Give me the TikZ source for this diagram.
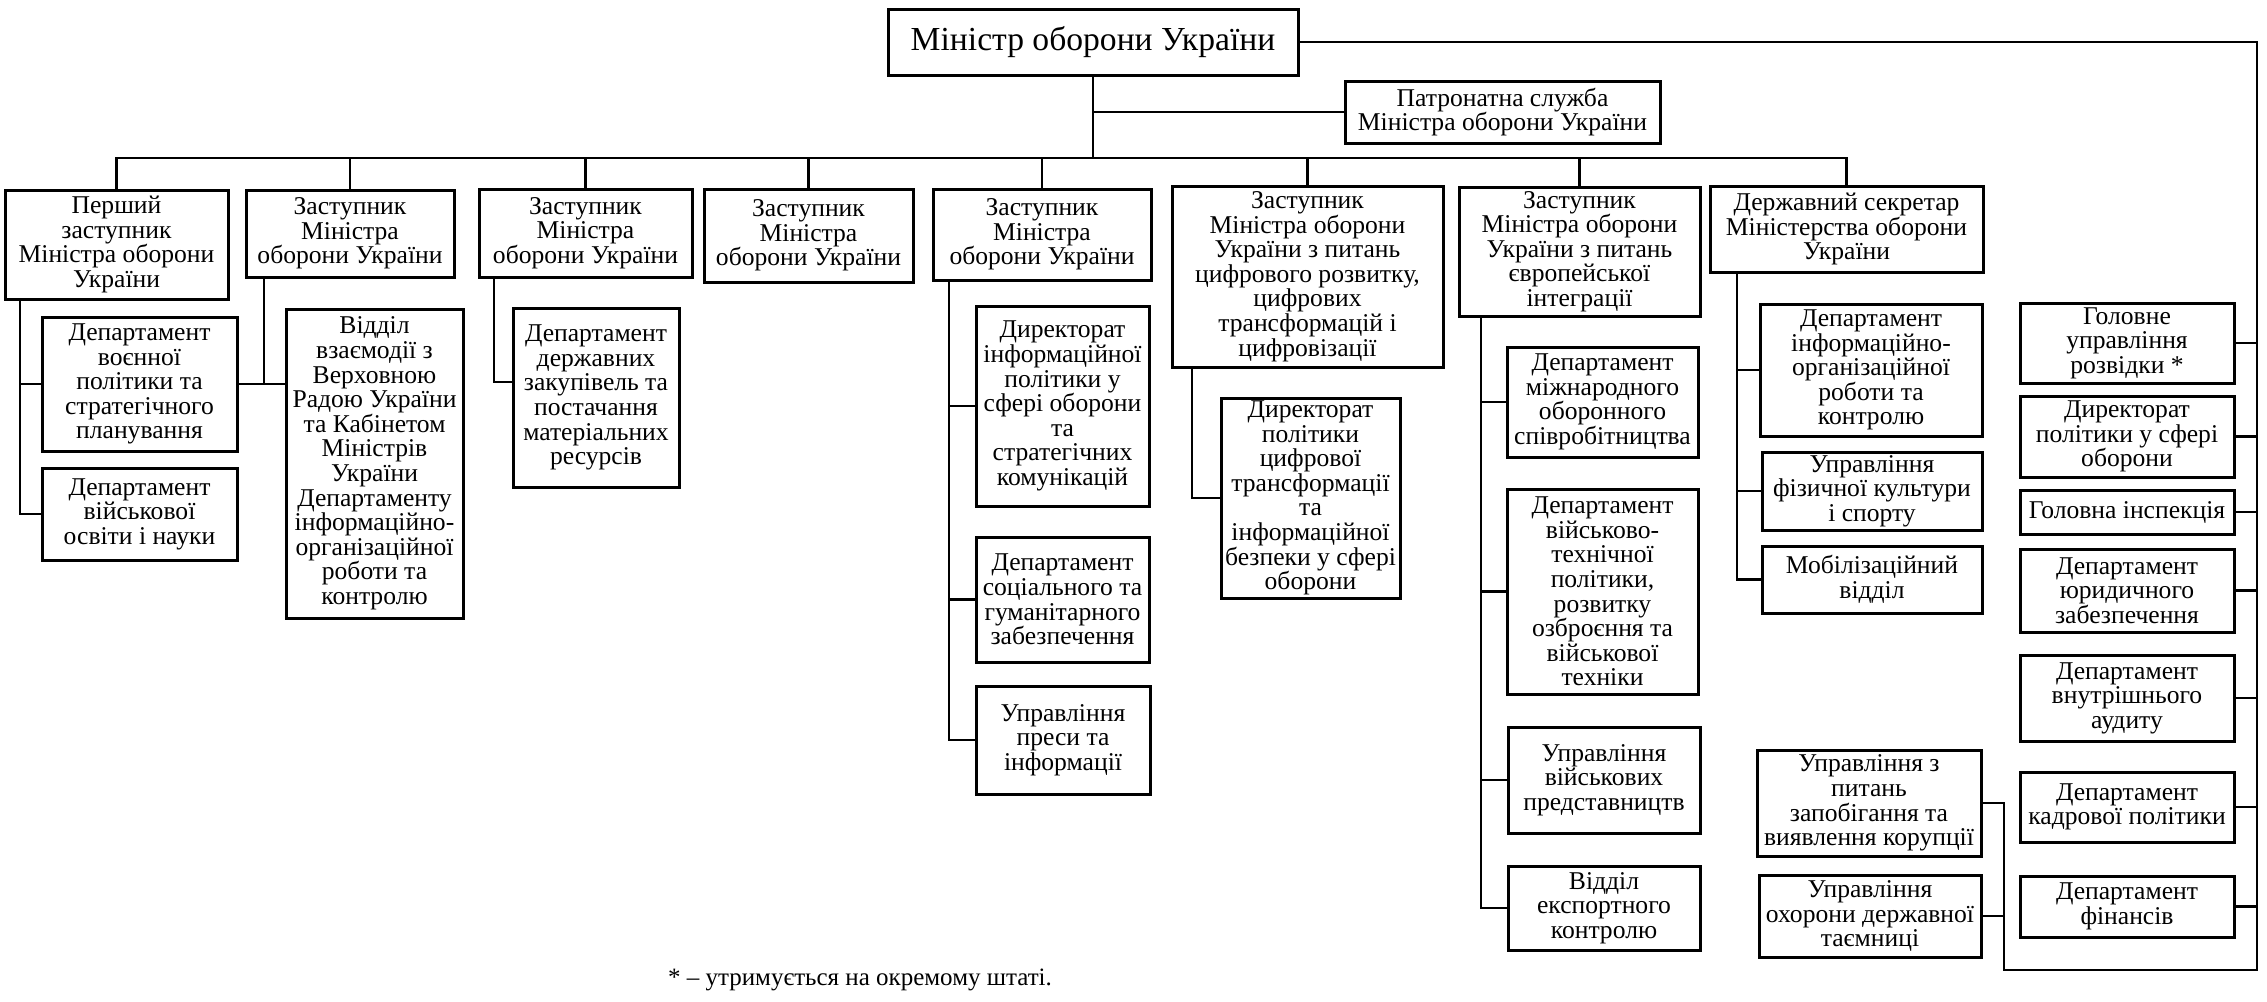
\documentclass[tikz,border=0pt]{standalone}
\usepackage{fontspec}
\setmainfont{Liberation Serif}
\newcommand\orgbox[7][]{\node[ob,#1,minimum width={(#5-#3)*0.5pt},minimum height={(#6-#4)*0.5pt}] (#2) at ({(#3+#5)/2},{(#4+#6)/2}) {#7};}
\begin{document}
\begin{tikzpicture}[x=0.5pt,y=-0.5pt,
  ob/.style={draw,line width=1.5pt,align=center,inner sep=1pt,font=\fontsize{12.8}{12.3}\selectfont},
  conn/.style={line width=1.1pt,line cap=rect}]
\useasboundingbox (0,0) rectangle (2267,1002);
% top
\orgbox[font=\fontsize{16.8}{18}\selectfont]{min}{888}{9}{1298}{75}{Міністр оборони України}
\orgbox{pat}{1345}{81}{1660}{143}{Патронатна служба\\Міністра оборони України}
% deputies
\orgbox{b1}{5}{190}{228}{299}{Перший\\заступник\\Міністра оборони\\України}
\orgbox{b2}{246}{190}{454}{277}{Заступник\\Міністра\\оборони України}
\orgbox{b3}{479}{189}{692}{277}{Заступник\\Міністра\\оборони України}
\orgbox{b4}{704}{189}{913}{282}{Заступник\\Міністра\\оборони України}
\orgbox{b5}{933}{189}{1151}{280}{Заступник\\Міністра\\оборони України}
\orgbox{b6}{1172}{186}{1443}{367}{Заступник\\Міністра оборони\\України з питань\\цифрового розвитку,\\цифрових\\трансформацій і\\цифровізації}
\orgbox{b7}{1459}{187}{1700}{316}{Заступник\\Міністра оборони\\України з питань\\європейської\\інтеграції}
\orgbox{b8}{1710}{186}{1983}{272}{Державний секретар\\Міністерства оборони\\України}
% sub units
\orgbox{d1a}{42}{317}{237}{451}{Департамент\\воєнної\\політики та\\стратегічного\\планування}
\orgbox{d1b}{42}{468}{237}{560}{Департамент\\військової\\освіти і науки}
\orgbox{d2}{286}{309}{463}{618}{Відділ\\взаємодії з\\Верховною\\Радою України\\та Кабінетом\\Міністрів\\України\\Департаменту\\інформаційно-\\організаційної\\роботи та\\контролю}
\orgbox{d3}{513}{308}{679}{487}{Департамент\\державних\\закупівель та\\постачання\\матеріальних\\ресурсів}
\orgbox{d5a}{976}{306}{1149}{506}{Директорат\\інформаційної\\політики у\\сфері оборони\\та\\стратегічних\\комунікацій}
\orgbox{d5b}{976}{537}{1149}{662}{Департамент\\соціального та\\гуманітарного\\забезпечення}
\orgbox{d5c}{976}{686}{1150}{794}{Управління\\преси та\\інформації}
\orgbox{d6}{1221}{398}{1400}{598}{Директорат\\політики\\цифрової\\трансформації\\та\\інформаційної\\безпеки у сфері\\оборони}
\orgbox{d7a}{1507}{347}{1698}{457}{Департамент\\міжнародного\\оборонного\\співробітництва}
\orgbox{d7b}{1507}{489}{1698}{694}{Департамент\\військово-\\технічної\\політики,\\розвитку\\озброєння та\\військової\\техніки}
\orgbox{d7c}{1508}{727}{1700}{833}{Управління\\військових\\представництв}
\orgbox{d7d}{1508}{866}{1700}{950}{Відділ\\експортного\\контролю}
\orgbox{d8a}{1760}{304}{1982}{436}{Департамент\\інформаційно-\\організаційної\\роботи та\\контролю}
\orgbox{d8b}{1762}{452}{1982}{530}{Управління\\фізичної культури\\і спорту}
\orgbox{d8c}{1762}{546}{1982}{613}{Мобілізаційний\\відділ}
\orgbox{c1}{1757}{750}{1981}{856}{Управління з\\питань\\запобігання та\\виявлення корупції}
\orgbox{c2}{1759}{875}{1981}{957}{Управління\\охорони державної\\таємниці}
% right column
\orgbox{r1}{2020}{303}{2234}{383}{Головне\\управління\\розвідки *}
\orgbox{r2}{2020}{396}{2234}{477}{Директорат\\політики у сфері\\оборони}
\orgbox{r3}{2020}{490}{2234}{534}{Головна інспекція}
\orgbox{r4}{2020}{549}{2234}{632}{Департамент\\юридичного\\забезпечення}
\orgbox{r5}{2020}{655}{2234}{741}{Департамент\\внутрішнього\\аудиту}
\orgbox{r6}{2020}{772}{2234}{842}{Департамент\\кадрової політики}
\orgbox{r7}{2020}{876}{2234}{937}{Департамент\\фінансів}
% footnote
\node[font=\fontsize{12.5}{14}\selectfont] (fn) at (860,980) {* – утримується на окремому штаті.};
% connectors
\coordinate (bus) at (0,158);
\draw[conn] (b1.north) -- (b1.north |- bus) -- (b8.north |- bus) -- (b8.north);
\foreach \b in {b2,b3,b4,b5,b6,b7} \draw[conn] (\b.north) -- (\b.north |- bus);
\draw[conn] (min.south) -- (min.south |- bus);
\draw[conn] (pat.west) -- (pat.west -| min.south);
\coordinate (rv) at (2257,970);
\draw[conn] (min.east) -| (rv);
\foreach \r in {r1,r2,r3,r4,r5,r6,r7} \draw[conn] (\r.east) -- (\r.east -| rv);
\coordinate (cv) at (2004,970);
\draw[conn] (c1.east) -| (cv) -- (rv);
\draw[conn] (c2.east) -- (c2.east -| cv);
% deputy 1
\coordinate (v1) at (20,0);
\draw[conn] (v1 |- b1.south) -- (v1 |- d1b.west) -- (d1b.west);
\draw[conn] (v1 |- d1a.west) -- (d1a.west);
% deputy 2
\coordinate (v2) at (264,0);
\draw[conn] (v2 |- b2.south) -- (v2 |- d1a.east);
\draw[conn] (d1a.east) -- (d1a.east -| d2.west);
% deputy 3
\coordinate (s3) at (494,382);
\draw[conn] (s3 |- b3.south) -- (s3) -- (s3 -| d3.west);
% deputy 5
\coordinate (v5) at (949,0);
\draw[conn] (v5 |- b5.south) -- (v5 |- d5c.west) -- (d5c.west);
\draw[conn] (v5 |- d5a.west) -- (d5a.west);
\draw[conn] (v5 |- d5b.west) -- (d5b.west);
% deputy 6
\coordinate (v6) at (1192,0);
\draw[conn] (v6 |- b6.south) -- (v6 |- d6.west) -- (d6.west);
% deputy 7
\coordinate (v7) at (1481,0);
\draw[conn] (v7 |- b7.south) -- (v7 |- d7d.west) -- (d7d.west);
\foreach \d in {d7a,d7b,d7c} \draw[conn] (v7 |- \d.west) -- (\d.west);
% state secretary
\coordinate (v8) at (1737,0);
\draw[conn] (v8 |- b8.south) -- (v8 |- d8c.west) -- (d8c.west);
\foreach \d in {d8a,d8b} \draw[conn] (v8 |- \d.west) -- (\d.west);
\end{tikzpicture}
\end{document}
